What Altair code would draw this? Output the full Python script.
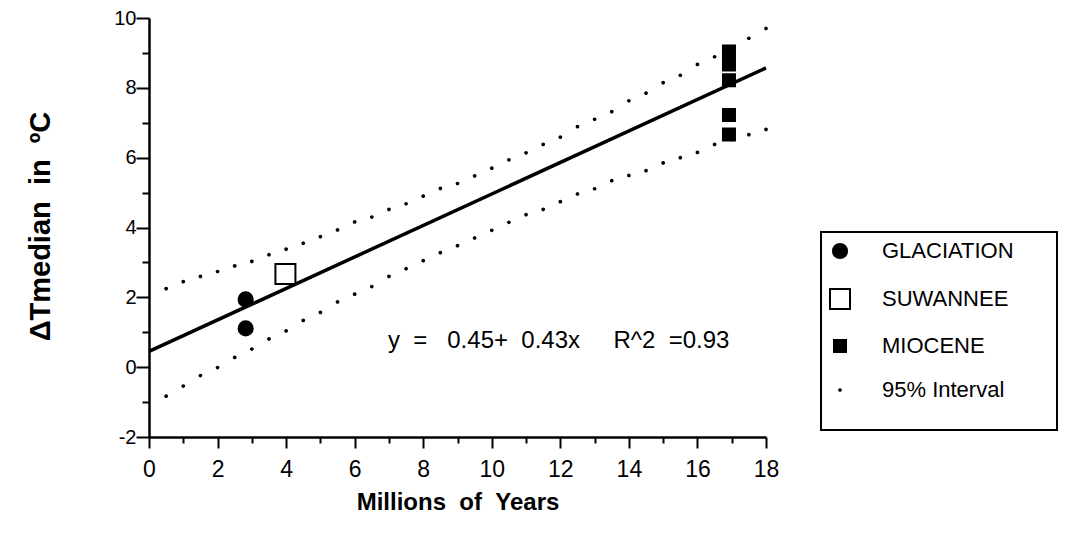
import altair as alt
import pandas as pd

# ---- data ----
categories = ["GLACIATION", "SUWANNEE", "MIOCENE", "95% Interval"]

glaciation_x = [2.82, 2.82]
glaciation_y = [1.94, 1.11]

suwannee_x = [3.98]
suwannee_y = [2.67]

miocene_x = [16.92, 16.92, 16.92, 16.92, 16.92]
miocene_y = [9.04, 8.67, 8.22, 7.22, 6.66]

interval_x = [0.5, 1.0, 1.5, 2.0, 2.5, 3.0, 3.5, 4.0, 4.5, 5.0, 5.5, 6.0,
              6.5, 7.0, 7.5, 8.0, 8.5, 9.0, 9.5, 10.0, 10.5, 11.0, 11.5, 12.0,
              12.5, 13.0, 13.5, 14.0, 14.5, 15.0, 15.5, 16.0, 16.5, 17.0, 17.5, 18.0]
upper_y = [2.25, 2.45, 2.60, 2.74, 2.90, 3.03, 3.22, 3.38, 3.55, 3.74, 3.93, 4.16,
           4.30, 4.52, 4.68, 4.90, 5.12, 5.26, 5.48, 5.70, 5.94, 6.14, 6.38, 6.59,
           6.89, 7.10, 7.32, 7.63, 7.85, 8.15, 8.36, 8.67, 8.89, 9.15, 9.42, 9.70]
lower_y = [-0.83, -0.54, -0.24, -0.01, 0.28, 0.52, 0.81, 1.04, 1.34, 1.57, 1.87, 2.09,
           2.31, 2.60, 2.82, 3.05, 3.28, 3.48, 3.70, 3.92, 4.15, 4.37, 4.52, 4.74,
           4.96, 5.11, 5.34, 5.49, 5.63, 5.85, 6.00, 6.15, 6.38, 6.52, 6.66, 6.81]

fit_x = [0.0, 18.0]
fit_y = [0.45, 8.57]

equation_x = [6.97]
equation_y = [0.75]
NB = "\u00a0"
equation_text = ["y" + NB * 2 + "=" + NB * 3 + "0.45+" + NB * 2 + "0.43x" + NB * 5 + "R^2" + NB * 2 + "=0.93"]

x_ticks = list(range(0, 19))
y_ticks = list(range(-2, 11))

# ---- tables ----
rows = []
for xv, yv in zip(interval_x, upper_y):
    rows.append({"x": xv, "y": yv, "cat": "95% Interval"})
for xv, yv in zip(interval_x, lower_y):
    rows.append({"x": xv, "y": yv, "cat": "95% Interval"})
for xv, yv in zip(glaciation_x, glaciation_y):
    rows.append({"x": xv, "y": yv, "cat": "GLACIATION"})
for xv, yv in zip(suwannee_x, suwannee_y):
    rows.append({"x": xv, "y": yv, "cat": "SUWANNEE"})
for xv, yv in zip(miocene_x, miocene_y):
    rows.append({"x": xv, "y": yv, "cat": "MIOCENE"})
points = pd.DataFrame(rows)
points["order"] = range(len(points))

fit = pd.DataFrame({"x": fit_x, "y": fit_y})
eq = pd.DataFrame({"x": equation_x, "y": equation_y, "t": equation_text})

FONT = "Liberation Sans"
LABEL_EXPR = "datum.value % 2 === 0 ? toString(datum.value) : ''"

xscale = alt.Scale(domain=[0, 18], nice=False, zero=False)
yscale = alt.Scale(domain=[-2, 10], nice=False, zero=False)

xaxis = alt.Axis(
    values=x_ticks,
    labelExpr=LABEL_EXPR,
    tickSize={"condition": {"test": "datum.value % 2 === 0", "value": 11}, "value": 6},
    tickWidth=2, tickColor="black",
    domainWidth=2.5, domainColor="black",
    labelFont=FONT, labelFontSize=23, labelColor="black", labelPadding=10,
    labelFlush=False, labelOverlap=False,
    grid=False,
    title="Millions" + NB * 2 + "of" + NB * 2 + "Years",
    titleFont=FONT, titleFontSize=24, titleFontWeight="bold", titleColor="black",
    titleX=308.5, titleY=65, titleAlign="center", titleBaseline="middle",
)
yaxis = alt.Axis(
    values=y_ticks,
    labelExpr=LABEL_EXPR,
    tickSize={"condition": {"test": "datum.value % 2 === 0", "value": 13}, "value": 7},
    tickWidth=2, tickColor="black",
    domainWidth=2.5, domainColor="black",
    labelFont=FONT, labelFontSize=20, labelColor="black", labelPadding=0,
    labelFlush=False, labelOverlap=False,
    grid=False,
    title="\u0394Tmedian" + NB * 2 + "in" + NB * 2 + "\u00baC",
    titleFont=FONT, titleFontSize=29, titleFontWeight="bold", titleColor="black",
    titleX=-109, titleY=208, titleAngle=270, titleAlign="center", titleBaseline="middle",
)

legend = alt.Legend(
    orient="none", legendX=672, legendY=214,
    title="M" * 22, titleOrient="bottom", titleFontSize=12.0, titleOpacity=0,
    titleLimit=400, titlePadding=10, titleFont=FONT,
    padding=8, rowPadding=22, labelOffset=31,
    labelFont=FONT, labelFontSize=22, labelColor="black",
    symbolStrokeColor="black", symbolStrokeWidth=2, symbolOpacity=1,
    strokeColor="black",
)

line = alt.Chart(fit).mark_line(color="black", strokeWidth=3.5).encode(
    x=alt.X("x:Q", scale=xscale, axis=xaxis),
    y=alt.Y("y:Q", scale=yscale, axis=yaxis),
)

pts = alt.Chart(points).mark_point(filled=True, strokeWidth=2, opacity=1).encode(
    x=alt.X("x:Q", scale=xscale, axis=xaxis),
    y=alt.Y("y:Q", scale=yscale, axis=yaxis),
    shape=alt.Shape("cat:N", scale=alt.Scale(domain=categories, range=["circle", "square", "square", "circle"]), legend=legend),
    fill=alt.Fill("cat:N", scale=alt.Scale(domain=categories, range=["black", "white", "black", "black"]), legend=legend),
    stroke=alt.Stroke("cat:N", scale=alt.Scale(domain=categories, range=["black", "black", "black", "black"]), legend=legend),
    size=alt.Size("cat:N", scale=alt.Scale(type="ordinal", domain=categories, range=[200, 400, 144, 3]), legend=legend),
    order=alt.Order("order:Q"),
)

txt = alt.Chart(eq).mark_text(align="left", baseline="middle", font=FONT, fontSize=24, color="black").encode(
    x=alt.X("x:Q", scale=xscale, axis=xaxis),
    y=alt.Y("y:Q", scale=yscale, axis=yaxis),
    text="t:N",
)

chart = alt.layer(line, pts, txt).properties(
    width=617, height=419,
    autosize=alt.AutoSizeParams(type="none"),
    padding={"left": 141, "top": 10, "right": 294, "bottom": 90},
    background="white",
).configure_view(stroke="transparent").configure_legend(strokeWidth=2)

chart.save("out.html", embed_options={"renderer": "svg", "actions": False})
